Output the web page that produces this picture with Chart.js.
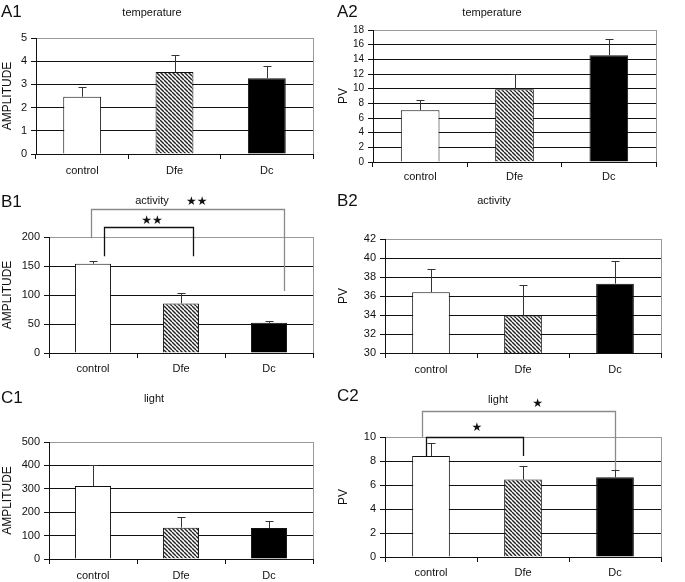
<!DOCTYPE html>
<html>
<head>
<meta charset="utf-8">
<script src="https://cdn.jsdelivr.net/npm/chart.js@4.4.0/dist/chart.umd.min.js"></script>
<style>
body{margin:0;background:#fff;width:685px;height:582px;position:relative;overflow:hidden;font-family:"Liberation Sans",Arial,sans-serif;color:#111}
canvas{position:absolute}
.lbl{position:absolute;font-size:17px;line-height:17px}
.ttl{position:absolute;font-size:11px;line-height:11px;transform:translateX(-50%);white-space:nowrap}
</style>
</head>
<body>
<canvas id="a1"></canvas>
<canvas id="a2"></canvas>
<canvas id="b1"></canvas>
<canvas id="b2"></canvas>
<canvas id="c1"></canvas>
<canvas id="c2"></canvas>

<div class="lbl" style="left:1px;top:3px">A1</div>
<div class="lbl" style="left:337px;top:3px">A2</div>
<div class="lbl" style="left:1px;top:193px">B1</div>
<div class="lbl" style="left:337px;top:192px">B2</div>
<div class="lbl" style="left:1px;top:389px">C1</div>
<div class="lbl" style="left:337px;top:387px">C2</div>

<div class="ttl" style="left:152px;top:7px">temperature</div>
<div class="ttl" style="left:492px;top:7px">temperature</div>
<div class="ttl" style="left:152px;top:195px">activity</div>
<div class="ttl" style="left:494px;top:195px">activity</div>
<div class="ttl" style="left:154px;top:393px">light</div>
<div class="ttl" style="left:498px;top:394px">light</div>

<script>
var groups = ["control", "Dfe", "Dc"];

// mean values and (upper) error for each panel
var tempAmp = [2.47, 3.53, 3.27];
var tempAmpErr = [0.43, 0.75, 0.52];
var tempPV = [7.05, 9.93, 14.55];
var tempPVErr = [1.35, 2.07, 2.18];
var actAmp = [154, 85.5, 52];
var actAmpErr = [5, 18, 4];
var actPV = [36.4, 33.95, 37.3];
var actPVErr = [2.45, 3.2, 2.4];
var lightAmp = [312, 134, 132];
var lightAmpErr = [90, 44, 30];
var lightPV = [8.42, 6.45, 6.65];
var lightPVErr = [1.05, 1.15, 0.6];

// y axis [min, max, step]
var tempAmpAxis = [0, 5, 1];
var tempPVAxis = [0, 18, 2];
var actAmpAxis = [0, 200, 50];
var actPVAxis = [30, 42, 2];
var lightAmpAxis = [0, 500, 100];
var lightPVAxis = [0, 10, 2];

// significance brackets (x in category units, y in data units)
var actAmpSig = [
  {from: -0.02, to: 2.17, top: 248, leftEnd: 198, rightEnd: 107, mark: "★★", markX: 1.18, markY: 260, color: "#8a8a8a"},
  {from: 0.125, to: 1.136, top: 217, leftEnd: 167, rightEnd: 167, mark: "★★", markX: 0.67, markY: 228, color: "#111"}
];
var lightPVSig = [
  {from: -0.1, to: 2.0, top: 12.17, leftEnd: 10, rightEnd: 7.26, mark: "★", markX: 1.16, markY: 12.8, color: "#8a8a8a"},
  {from: -0.054, to: 1.0, top: 10, leftEnd: 8.42, rightEnd: 8.42, mark: "★", markX: 0.5, markY: 10.75, color: "#111"}
];

var FONT = '"Liberation Sans", Arial, sans-serif';

function hatch() {
  var s = 4;
  var c = document.createElement("canvas");
  c.width = s; c.height = s;
  var g = c.getContext("2d");
  g.fillStyle = "#fff";
  g.fillRect(0, 0, s, s);
  g.strokeStyle = "#222";
  g.lineWidth = 1.4;
  [-s, 0, s].forEach(function(x0) {
    g.beginPath();
    g.moveTo(x0, 0);
    g.lineTo(x0 + s, s);
    g.stroke();
  });
  return g.createPattern(c, "repeat");
}
var hatchFill = hatch();

var errorBars = {
  id: "errorBars",
  afterDatasetsDraw: function(chart, args, opts) {
    var ctx = chart.ctx, y = chart.scales.y;
    var vals = chart.data.datasets[0].data;
    ctx.save();
    ctx.strokeStyle = "#333";
    ctx.lineWidth = 1;
    chart.getDatasetMeta(0).data.forEach(function(bar, i) {
      var x = Math.round(bar.x) + 0.5;
      var top = Math.round(y.getPixelForValue(vals[i] + opts.errors[i])) + 0.5;
      ctx.beginPath();
      ctx.moveTo(x, bar.y);
      ctx.lineTo(x, top);
      ctx.moveTo(x - 4, top);
      ctx.lineTo(x + 4, top);
      ctx.stroke();
    });
    ctx.restore();
  }
};

var brackets = {
  id: "brackets",
  afterDraw: function(chart, args, opts) {
    if (!opts.items) return;
    var ctx = chart.ctx, xs = chart.scales.x, ys = chart.scales.y;
    ctx.save();
    opts.items.forEach(function(b) {
      var x1 = Math.round(xs.getPixelForValue(b.from)) + 0.5;
      var x2 = Math.round(xs.getPixelForValue(b.to)) + 0.5;
      var yt = Math.round(ys.getPixelForValue(b.top)) + 0.5;
      ctx.strokeStyle = b.color;
      ctx.lineWidth = 1.3;
      ctx.beginPath();
      ctx.moveTo(x1, ys.getPixelForValue(b.leftEnd));
      ctx.lineTo(x1, yt);
      ctx.lineTo(x2, yt);
      ctx.lineTo(x2, ys.getPixelForValue(b.rightEnd));
      ctx.stroke();
      ctx.fillStyle = "#111";
      ctx.font = '12px "DejaVu Sans"';
      ctx.textAlign = "center";
      ctx.textBaseline = "middle";
      ctx.fillText(b.mark, xs.getPixelForValue(b.markX), ys.getPixelForValue(b.markY));
    });
    ctx.restore();
  }
};

function makeChart(id, box, plot, values, errors, axis, yTitle, xPad, tickSize, sig) {
  var cv = document.getElementById(id);
  cv.width = box[2];
  cv.height = box[3];
  cv.style.left = box[0] + "px";
  cv.style.top = box[1] + "px";
  var yw = plot[0] - box[0];
  var padTop = plot[1] - box[1];
  var padRight = box[0] + box[2] - plot[2];
  var xh = box[1] + box[3] - plot[3];
  return new Chart(cv, {
    type: "bar",
    data: {
      labels: groups,
      datasets: [{
        data: values,
        backgroundColor: ["#fff", hatchFill, "#000"],
        borderColor: "#111",
        borderWidth: 1,
        barPercentage: 0.41,
        categoryPercentage: 1
      }]
    },
    options: {
      responsive: false,
      animation: false,
      devicePixelRatio: 1,
      layout: {padding: {top: padTop, right: padRight, left: 0, bottom: 0}},
      plugins: {
        legend: {display: false},
        tooltip: {enabled: false},
        errorBars: {errors: errors},
        brackets: {items: sig}
      },
      scales: {
        x: {
          offset: true,
          grid: {
            offset: true,
            color: function(c) { return c.tick ? "rgba(0,0,0,0)" : "#999"; },
            tickColor: "#111",
            tickLength: 5
          },
          border: {color: "#111", width: 1},
          ticks: {color: "#111", font: {family: FONT, size: 11}, padding: xPad},
          afterFit: function(s) { s.height = xh; }
        },
        y: {
          min: axis[0],
          max: axis[1],
          ticks: {stepSize: axis[2], autoSkip: false, color: "#111", font: {family: FONT, size: tickSize}, padding: 4},
          grid: {
            color: function(c) { return c.tick && c.tick.value === axis[1] ? "#999" : "#111"; },
            tickColor: "#111",
            tickLength: 5
          },
          border: {color: "#111", width: 1},
          title: {display: true, text: yTitle, color: "#111", font: {family: FONT, size: 12}, padding: 0},
          afterFit: function(s) { s.width = yw; }
        }
      }
    },
    plugins: [errorBars, brackets]
  });
}

makeChart("a1", [0, 20, 330, 170], [36, 38, 313, 154], tempAmp, tempAmpErr, tempAmpAxis, "AMPLITUDE", 5, 11, null);
makeChart("a2", [336, 20, 349, 170], [373, 30, 656, 162], tempPV, tempPVErr, tempPVAxis, "PV", 3, 10, null);
makeChart("b1", [0, 190, 330, 190], [49, 237, 313, 353], actAmp, actAmpErr, actAmpAxis, "AMPLITUDE", 4, 11, actAmpSig);
makeChart("b2", [336, 190, 349, 190], [385, 239, 661, 353], actPV, actPVErr, actPVAxis, "PV", 5, 11, null);
makeChart("c1", [0, 380, 330, 202], [49, 442, 313, 559], lightAmp, lightAmpErr, lightAmpAxis, "AMPLITUDE", 5, 11, null);
makeChart("c2", [336, 380, 349, 202], [385, 437, 661, 557], lightPV, lightPVErr, lightPVAxis, "PV", 4, 11, lightPVSig);
</script>
</body>
</html>
